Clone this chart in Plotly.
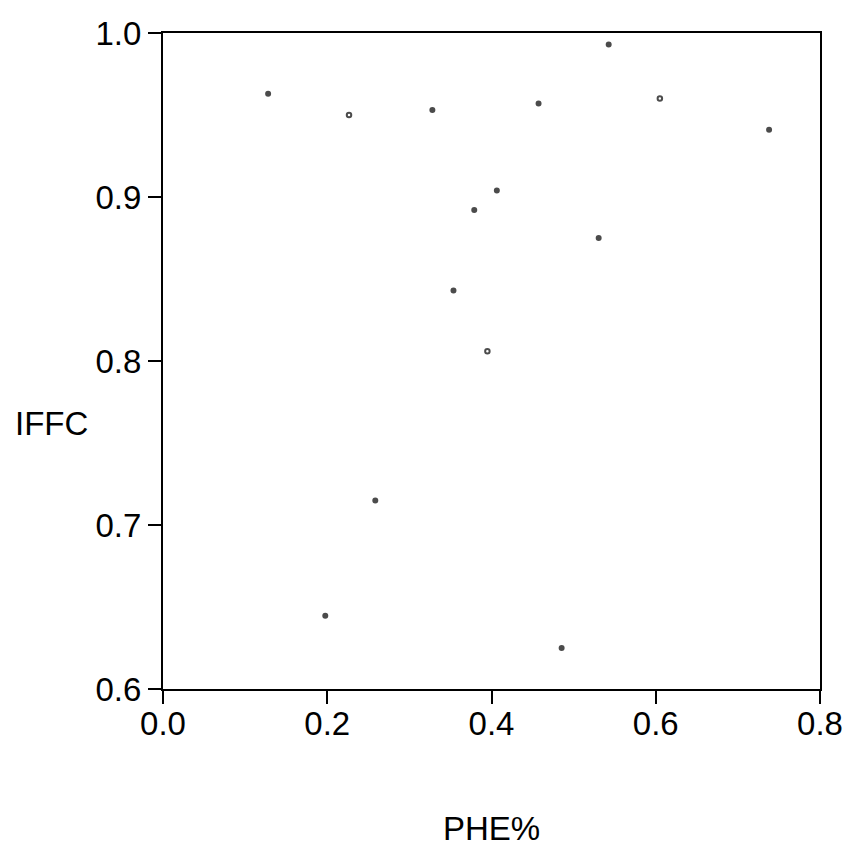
import plotly.graph_objects as go

# Data
phe = [0.128, 0.2265, 0.328, 0.4065, 0.379, 0.5427, 0.4573, 0.605, 0.738,
       0.5305, 0.3537, 0.395, 0.2585, 0.1976, 0.4854]
iffc = [0.963, 0.950, 0.953, 0.904, 0.892, 0.993, 0.957, 0.960, 0.941,
        0.875, 0.843, 0.806, 0.715, 0.6446, 0.625]
x_ticks = [0.0, 0.2, 0.4, 0.6, 0.8]
x_tick_labels = ["0.0", "0.2", "0.4", "0.6", "0.8"]
y_ticks = [0.6, 0.7, 0.8, 0.9, 1.0]
y_tick_labels = ["0.6", "0.7", "0.8", "0.9", "1.0"]

# marker style per point (some points render as small rings)
symbols = ["circle", "circle-open", "circle", "circle", "circle", "circle", "circle",
           "circle-open", "circle", "circle", "circle", "circle-open", "circle",
           "circle", "circle"]
sizes = [4 if s == "circle" else 4.5 for s in symbols]

FONT = "Liberation Sans, Arial, sans-serif"

fig = go.Figure(go.Scatter(
    x=phe, y=iffc, mode="markers",
    marker=dict(color="black", size=sizes, symbol=symbols,
                line=dict(color="black", width=2)),
    showlegend=False,
))

axis_common = dict(
    showgrid=False, zeroline=False, showline=True, linecolor="black", linewidth=2,
    mirror=True, ticks="outside", ticklen=13, tickwidth=2, tickcolor="black",
    tickfont=dict(family=FONT, size=33, color="black"),
    automargin=False, ticklabeloverflow="allow",
)

fig.update_xaxes(range=[0, 0.8], tickvals=x_ticks, ticktext=x_tick_labels,
                 ticklabelstandoff=-9, **axis_common)
fig.update_yaxes(range=[0.6, 1.0], tickvals=y_ticks, ticktext=y_tick_labels, **axis_common)

fig.add_annotation(text="PHE%", xref="paper", yref="paper", x=0.5, y=-0.212,
                   showarrow=False, xanchor="center", yanchor="middle",
                   font=dict(family=FONT, size=33, color="black"))
fig.add_annotation(text="IFFC", xref="paper", yref="paper", x=-0.229, y=0.405,
                   showarrow=False, xanchor="left", yanchor="middle",
                   font=dict(family=FONT, size=33, color="black"))

fig.update_layout(
    width=849, height=847,
    margin=dict(l=163, r=29, t=33, b=158),
    plot_bgcolor="white", paper_bgcolor="white",
)

fig.write_html("out.html")
